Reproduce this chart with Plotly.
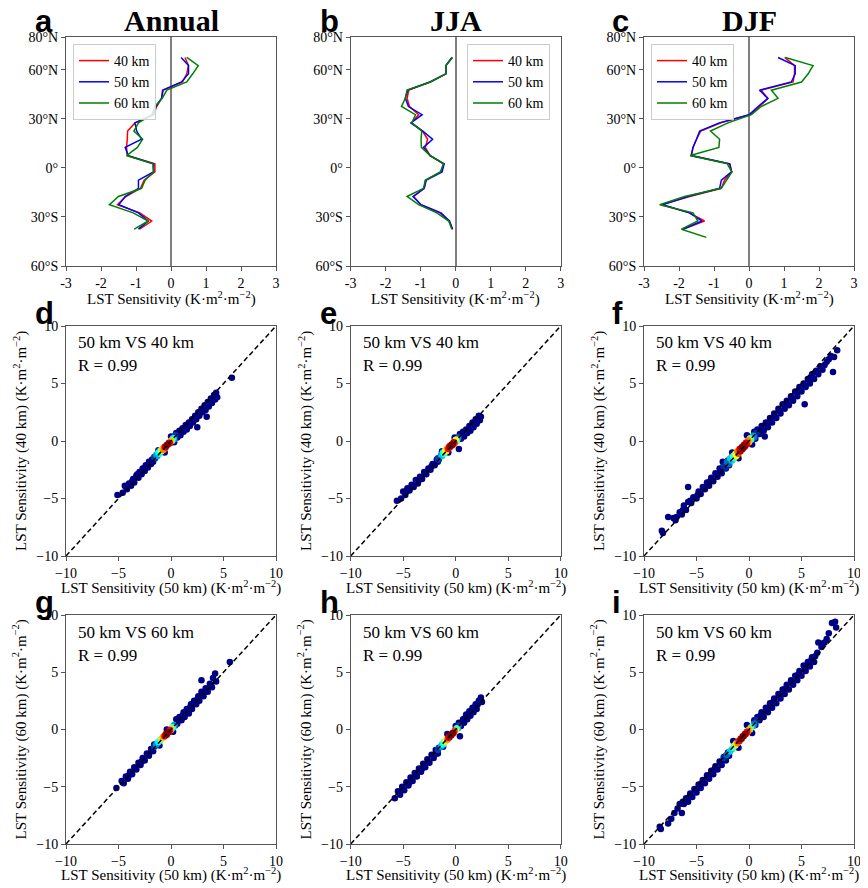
import plotly.graph_objects as go

# target picture geometry (the page body adds an 8 px margin around the figure)
PAGE_OFF = 8
W, H = 860, 880

# ---------------- data: latitude profiles (top row) ----------------
lats = [67.5, 62.5, 57.5, 52.5, 47.5, 42.5, 37.5, 32.5, 27.5, 22.5, 17.5,
        12.5, 7.5, 2.5, -2.5, -7.5, -12.5, -17.5, -22.5, -27.5, -32.5, -37.5]
lats_djf = [67.5, 62.5, 57.5, 52.5, 47.5, 42.5, 37.5, 32.5, 27.5, 22.5, 17.5,
            12.5, 7.5, 2.5, -2.5, -7.5, -12.5, -17.5, -22.5, -27.5, -32.5, -37.5, -42.5]

ann_40 = [0.40, 0.50, 0.45, 0.33, -0.22, -0.27, -0.41, -0.50, -1.03, -1.24, -1.25,
          -1.27, -1.25, -0.46, -0.46, -0.77, -0.87, -1.29, -1.53, -0.89, -0.55, -0.90]
ann_50 = [0.29, 0.50, 0.50, 0.30, -0.24, -0.27, -0.43, -0.50, -1.03, -0.98, -0.84,
          -1.31, -1.22, -0.50, -0.50, -0.93, -0.93, -1.31, -1.49, -0.93, -0.65, -0.93]
ann_60 = [0.45, 0.78, 0.62, 0.45, -0.12, -0.25, -0.46, -0.55, -0.93, -1.06, -0.81,
          -0.96, -1.27, -0.52, -0.50, -0.74, -0.84, -1.50, -1.76, -1.08, -0.65, -1.05]

jja_40 = [-0.10, -0.28, -0.28, -0.73, -1.34, -1.39, -1.32, -1.06, -1.26, -0.95, -0.80,
          -0.87, -0.73, -0.34, -0.42, -0.86, -0.90, -1.20, -1.00, -0.45, -0.18, -0.09]
jja_50 = [-0.11, -0.28, -0.28, -0.73, -1.37, -1.44, -1.35, -0.96, -1.28, -0.94, -0.66,
          -0.92, -0.73, -0.33, -0.39, -0.84, -0.90, -1.22, -0.99, -0.42, -0.18, -0.09]
jja_60 = [-0.09, -0.28, -0.28, -0.73, -1.39, -1.44, -1.55, -1.15, -1.25, -0.97, -0.99,
          -0.98, -0.73, -0.35, -0.44, -0.87, -0.92, -1.39, -1.06, -0.54, -0.20, -0.11]

djf_40 = [1.02, 1.30, 1.30, 1.26, 0.35, 0.54, 0.30, 0.02, -0.80, -1.38, -1.50,
          -1.60, -1.65, -0.55, -0.49, -0.70, -0.79, -1.70, -2.50, -1.70, -1.27, -1.89, None]
djf_50 = [0.83, 1.32, 1.32, 1.21, 0.30, 0.54, 0.26, 0.00, -0.85, -1.41, -1.50,
          -1.60, -1.65, -0.55, -0.50, -0.79, -0.84, -1.74, -2.46, -1.70, -1.34, -1.89, None]
djf_60 = [1.04, 1.83, 1.69, 1.50, 0.64, 0.83, 0.35, 0.07, -0.60, -1.10, -0.84,
          -0.86, -1.68, -0.62, -0.49, -0.65, -0.79, -1.84, -2.55, -1.60, -1.46, -1.93, -1.22]

lat_ticks = [80, 60, 30, 0, -30, -60]
lat_labels = ["80°N", "60°N", "30°N", "0°", "30°S", "60°S"]
sens_ticks = [-3, -2, -1, 0, 1, 2, 3]
sens_labels = ["-3", "-2", "-1", "0", "1", "2", "3"]
scat_ticks = [-10, -5, 0, 5, 10]
scat_labels = ["\u221210", "\u22125", "0", "5", "10"]
diag = [-10, 10]

series_names = ["40 km", "50 km", "60 km"]
series_colors = ["#ff0000", "#0000ff", "#008000"]

# ---------------- data: scatter panels (x = 50 km, y = 40/60 km) ----------------
d_cloud = [(-5.1,-4.7),(-4.6,-4.5),(-4.4,-3.9),(-4.2,-4.2),(-4.0,-3.7),(-3.8,-3.9),(-3.6,-3.3),
           (-3.5,-3.6),(-3.3,-3.0),(-3.1,-3.2),(-3.0,-2.7),(-2.8,-2.9),(-2.7,-2.4),(-2.5,-2.6),
           (-2.4,-2.1),(-2.2,-2.3),(-2.1,-1.8),(-1.9,-2.0),(-1.8,-1.6),(-1.7,-1.8),(-1.2,-0.8),
           (-0.6,-1.0),(0.0,0.4),(0.3,-0.1),(0.5,0.7),(0.6,0.3),(0.8,0.9),(0.9,0.5),(1.1,1.1),
           (1.2,0.8),(1.4,1.4),(1.5,1.0),(1.7,1.6),(1.8,1.3),(2.0,1.9),(2.1,1.6),(2.3,2.2),
           (2.4,1.9),(2.5,1.2),(2.6,2.5),(2.7,2.2),(2.9,2.8),(3.0,2.5),(3.2,3.1),(3.3,2.7),
           (3.5,3.4),(3.4,2.1),(3.6,3.0),(3.8,3.7),(3.9,3.3),(4.1,4.0),(4.2,3.6),(4.3,4.2),
           (4.4,3.8),(5.8,5.5),
           (-4.3,-4.0),(-3.7,-3.5),(-3.2,-2.9),(-2.6,-2.4),(-2.0,-1.9),(1.0,0.9),(1.6,1.4),
           (2.2,1.9),(2.8,2.5),(3.4,3.1),(4.0,3.7)]
d_core = [(-1.6,-1.4,0.2),(-1.5,-1.5,0.2),(-1.4,-1.2,0.3),(-1.3,-1.3,0.3),(-1.2,-1.0,0.4),
          (-1.1,-1.1,0.4),(-1.0,-0.8,0.5),(-0.9,-0.9,0.55),(-0.8,-0.65,0.65),(-0.7,-0.75,0.7),
          (-0.6,-0.5,0.85),(-0.5,-0.55,0.9),(-0.4,-0.35,1.0),(-0.3,-0.3,1.0),(-0.2,-0.15,0.9),
          (-0.1,-0.2,0.8),(0.0,0.05,0.65),(0.1,0.0,0.5),(0.2,0.25,0.4),(0.3,0.15,0.3),(0.4,0.5,0.2)]

e_cloud = [(-5.6,-5.2),(-5.2,-5.0),(-5.0,-4.4),(-4.8,-4.7),(-4.6,-4.1),(-4.4,-4.3),(-4.2,-3.8),
           (-4.0,-4.0),(-3.8,-3.4),(-3.6,-3.7),(-3.4,-3.1),(-3.2,-3.3),(-3.0,-2.7),(-2.8,-2.9),
           (-2.6,-2.4),(-2.4,-2.5),(-2.2,-2.0),(-2.0,-2.1),(-1.8,-1.6),(-1.7,-1.8),(-1.3,-0.9),
           (-0.7,-1.0),(-0.1,0.3),(0.3,-0.7),(0.4,0.6),(0.5,0.2),(0.7,0.8),(0.8,0.4),(1.0,1.0),
           (1.1,0.7),(1.3,1.3),(1.4,0.9),(1.6,1.6),(1.7,1.2),(1.9,1.9),(2.0,1.5),(2.2,2.2),
           (2.3,1.8),(2.4,2.1),
           (-4.7,-4.4),(-4.1,-3.9),(-3.5,-3.4),(-2.9,-2.8),(-2.3,-2.2),(0.9,0.7),(1.5,1.3),
           (2.1,1.9)]
e_core = [(-1.7,-1.5,0.2),(-1.6,-1.6,0.2),(-1.4,-1.2,0.3),(-1.3,-1.3,0.35),(-1.2,-1.0,0.4),
          (-1.1,-1.1,0.45),(-1.0,-0.8,0.55),(-0.9,-0.9,0.6),(-0.8,-0.65,0.7),(-0.7,-0.7,0.8),
          (-0.6,-0.45,0.9),(-0.5,-0.5,0.95),(-0.4,-0.3,1.0),(-0.3,-0.35,1.0),(-0.2,-0.1,0.9),
          (-0.1,-0.2,0.75),(0.0,0.1,0.6),(0.1,0.0,0.45),(0.2,0.2,0.3),(0.3,0.35,0.2)]

f_cloud = [(-8.3,-7.8),(-8.2,-8.0),(-7.7,-6.6),(-7.2,-6.7),(-6.9,-6.6),(-6.6,-6.2),(-6.4,-6.4),
           (-6.2,-5.6),(-6.0,-6.0),(-5.8,-5.3),(-5.8,-4.0),(-5.5,-5.4),(-5.3,-4.9),(-5.0,-5.0),
           (-4.8,-4.4),(-4.6,-4.6),(-4.4,-4.0),(-4.2,-4.2),(-4.0,-3.6),(-3.8,-3.9),(-3.6,-3.2),
           (-3.4,-3.5),(-3.2,-2.8),(-3.0,-3.1),(-2.8,-2.4),(-2.6,-2.8),(-2.5,-1.8),(-2.4,-2.1),
           (-2.2,-2.4),(-2.0,-1.7),(-1.9,-2.1),(-1.6,-1.0),(-1.0,-1.5),(-0.2,0.5),(0.3,-0.3),
           (0.5,0.8),(0.6,0.2),(0.8,1.0),(1.0,0.6),(1.2,1.3),(1.5,0.4),(1.4,0.9),(1.6,1.6),
           (1.8,1.2),(2.0,2.0),(2.2,1.6),(2.4,2.4),(2.6,2.0),(2.8,2.8),(3.0,2.4),(3.2,3.2),
           (3.4,2.8),(3.6,3.5),(3.8,3.1),(4.0,3.9),(4.2,3.5),(4.4,4.3),(4.6,3.9),(4.8,4.7),
           (5.0,4.3),(5.3,3.2),(5.2,5.0),(5.4,4.7),(5.6,5.4),(5.8,5.0),(6.0,5.8),(6.2,5.4),
           (6.4,6.1),(6.6,5.8),(6.8,6.5),(7.0,6.2),(7.4,6.9),(7.6,7.1),(8.0,6.0),(8.1,7.3),
           (8.4,7.9),
           (-7.0,-6.9),(-6.3,-6.0),(-5.6,-5.2),(-4.9,-4.7),(-4.3,-4.1),(-3.7,-3.5),(-3.1,-2.9),
           (-2.7,-2.6),(1.1,0.9),(1.7,1.4),(2.3,2.0),(2.9,2.6),(3.5,3.2),(4.1,3.7),(4.7,4.3),
           (5.3,4.8),(5.9,5.4),(6.5,6.0),(7.2,6.6),(7.8,7.4)]
f_core = [(-2.4,-2.2,0.15),(-2.2,-2.3,0.15),(-2.1,-1.8,0.25),(-1.9,-2.0,0.25),(-1.8,-1.5,0.35),
          (-1.6,-1.7,0.35),(-1.5,-1.3,0.45),(-1.4,-1.5,0.45),(-1.3,-1.1,0.55),(-1.2,-1.3,0.6),
          (-1.1,-0.9,0.7),(-1.0,-1.1,0.75),(-0.9,-0.7,0.85),(-0.8,-0.9,0.9),(-0.7,-0.55,1.0),
          (-0.6,-0.7,1.0),(-0.5,-0.35,0.95),(-0.4,-0.5,0.95),(-0.3,-0.15,0.85),(-0.2,-0.3,0.8),
          (-0.1,0.05,0.7),(0.0,-0.1,0.65),(0.1,0.25,0.5),(0.2,0.1,0.45),(0.4,0.45,0.3),
          (0.5,0.3,0.25),(0.7,0.7,0.15)]

g_cloud = [(-5.2,-5.1),(-4.7,-4.5),(-4.5,-4.7),(-4.3,-4.1),(-4.1,-4.3),(-3.9,-3.7),(-3.7,-3.9),
           (-3.5,-3.3),(-3.3,-3.5),(-3.1,-2.9),(-2.9,-3.1),(-2.7,-2.5),(-2.5,-2.7),(-2.3,-2.1),
           (-2.1,-2.3),(-1.9,-1.7),(-1.7,-1.9),(-1.6,-1.3),(-1.1,-1.4),(-0.4,0.0),(0.2,-0.2),
           (0.5,0.9),(0.6,0.5),(0.8,1.1),(1.0,0.8),(1.2,1.5),(1.3,1.1),(1.5,1.8),(1.7,1.4),
           (1.9,2.2),(2.0,1.8),(2.2,2.5),(2.4,2.2),(2.6,2.9),(2.7,2.5),(2.9,3.3),(2.9,4.3),
           (3.1,2.9),(3.3,3.6),(3.5,3.3),(3.7,4.0),(3.9,3.7),(4.0,4.5),(4.2,4.9),(4.3,4.2),
           (5.6,5.9),
           (-4.0,-4.0),(-3.4,-3.4),(-2.8,-2.8),(-2.2,-2.2),(1.1,1.2),(1.8,1.9),(2.5,2.6),
           (3.2,3.3),(3.8,3.9)]
g_core = [(-1.6,-1.5,0.2),(-1.5,-1.4,0.2),(-1.4,-1.3,0.3),(-1.3,-1.2,0.3),(-1.2,-1.1,0.4),
          (-1.1,-1.0,0.4),(-1.0,-0.9,0.5),(-0.9,-0.8,0.55),(-0.8,-0.75,0.65),(-0.7,-0.6,0.7),
          (-0.6,-0.6,0.85),(-0.5,-0.4,0.9),(-0.4,-0.45,1.0),(-0.3,-0.25,1.0),(-0.2,-0.25,0.9),
          (-0.1,-0.05,0.8),(0.0,-0.05,0.65),(0.1,0.2,0.5),(0.2,0.15,0.4),(0.3,0.4,0.3),(0.4,0.35,0.2)]

h_cloud = [(-5.8,-6.0),(-5.5,-5.4),(-5.3,-5.7),(-5.1,-5.0),(-4.9,-5.3),(-4.7,-4.6),(-4.5,-4.9),
           (-4.3,-4.2),(-4.1,-4.5),(-3.9,-3.8),(-3.7,-4.1),(-3.5,-3.4),(-3.3,-3.7),(-3.1,-3.0),
           (-2.9,-3.3),(-2.7,-2.6),(-2.5,-2.9),(-2.3,-2.2),(-2.1,-2.5),(-1.9,-1.8),(-1.7,-2.1),
           (-1.2,-1.5),(-0.8,-0.4),(0.0,0.3),(0.3,0.6),(0.4,-0.6),(0.5,0.3),(0.7,0.9),(0.8,0.6),
           (1.0,1.3),(1.1,0.9),(1.3,1.6),(1.4,1.2),(1.6,1.9),(1.7,1.5),(1.9,2.2),(2.0,1.8),
           (2.2,2.5),(2.4,2.8),(2.5,2.4),
           (-5.0,-5.2),(-4.4,-4.6),(-3.8,-4.0),(-3.2,-3.4),(-2.6,-2.8),(-2.0,-2.2),(0.9,1.0),
           (1.5,1.6),(2.1,2.2)]
h_core = [(-1.7,-1.8,0.2),(-1.6,-1.6,0.2),(-1.4,-1.5,0.3),(-1.3,-1.3,0.35),(-1.2,-1.3,0.4),
          (-1.1,-1.1,0.45),(-1.0,-1.1,0.55),(-0.9,-0.9,0.6),(-0.8,-0.9,0.7),(-0.7,-0.7,0.8),
          (-0.6,-0.7,0.9),(-0.5,-0.5,0.95),(-0.4,-0.5,1.0),(-0.3,-0.3,1.0),(-0.2,-0.3,0.9),
          (-0.1,-0.1,0.75),(0.0,-0.1,0.6),(0.1,0.1,0.45),(0.2,0.1,0.3),(0.3,0.35,0.2)]

i_cloud = [(-8.5,-8.5),(-8.4,-8.7),(-7.7,-8.2),(-7.4,-7.8),(-6.8,-6.9),(-6.4,-7.3),(-6.6,-6.5),
           (-6.2,-6.5),(-6.0,-6.0),(-5.8,-6.3),(-5.6,-5.6),(-5.4,-5.9),(-5.2,-5.2),(-5.0,-5.5),
           (-4.8,-4.8),(-4.6,-5.1),(-4.4,-4.4),(-4.2,-4.7),(-4.0,-4.0),(-3.8,-4.3),(-3.6,-3.6),
           (-3.4,-3.9),(-3.2,-3.2),(-3.0,-3.5),(-2.8,-2.8),(-2.6,-3.1),(-2.4,-2.4),(-2.2,-2.7),
           (-2.0,-2.0),(-1.9,-2.3),(-1.5,-1.0),(-1.0,-1.6),(-0.2,0.4),(0.3,-0.3),(0.5,0.8),
           (0.6,0.4),(0.8,1.1),(1.0,0.8),(1.2,1.5),(1.4,1.1),(1.6,1.9),(1.8,1.5),(2.0,2.3),
           (2.2,1.9),(2.4,2.7),(2.6,2.3),(2.8,3.1),(3.0,2.7),(3.2,3.5),(3.4,3.1),(3.6,3.9),
           (3.8,3.5),(4.0,4.3),(4.2,3.9),(4.4,4.7),(4.6,4.3),(4.8,5.1),(5.0,4.7),(5.2,5.6),
           (5.4,5.1),(5.6,5.9),(5.8,5.5),(6.0,6.3),(6.2,5.9),(6.5,6.7),(6.6,7.6),(6.9,7.2),
           (7.2,7.6),(7.6,8.4),(7.9,9.3),(8.2,9.4),(8.3,8.9),
           (-7.1,-7.3),(-6.3,-6.3),(-5.7,-5.9),(-5.1,-5.3),(-4.5,-4.7),(-3.9,-4.1),(-3.3,-3.5),
           (-2.7,-2.9),(1.1,1.2),(1.7,1.8),(2.3,2.4),(2.9,3.0),(3.5,3.6),(4.1,4.2),(4.7,4.8),
           (5.3,5.4),(5.9,6.0),(6.3,6.4),(7.0,7.5),(7.4,7.9)]
i_core = [(-2.4,-2.5,0.15),(-2.2,-2.3,0.15),(-2.1,-2.2,0.25),(-1.9,-2.0,0.25),(-1.8,-1.9,0.35),
          (-1.6,-1.7,0.35),(-1.5,-1.6,0.45),(-1.4,-1.4,0.45),(-1.3,-1.4,0.55),(-1.2,-1.2,0.6),
          (-1.1,-1.2,0.7),(-1.0,-1.0,0.75),(-0.9,-1.0,0.85),(-0.8,-0.8,0.9),(-0.7,-0.8,1.0),
          (-0.6,-0.6,1.0),(-0.5,-0.6,0.95),(-0.4,-0.4,0.95),(-0.3,-0.4,0.85),(-0.2,-0.2,0.8),
          (-0.1,-0.2,0.7),(0.0,0.0,0.65),(0.1,0.0,0.5),(0.2,0.2,0.45),(0.4,0.3,0.3),
          (0.5,0.5,0.25),(0.7,0.8,0.15)]

# ---------------- layout (pixel geometry in the 868x888 picture) ----------------
col_px = [(66, 276), (350.7, 560.7), (644, 854)]
row_px = [(37, 266), (326, 556), (615, 844)]

SERIF = "Liberation Serif"
SANS = "Liberation Sans"
AX_COLOR = "#555555"

def px_x(p):
    return (p - PAGE_OFF) / W

def px_y(p):
    return 1 - (p - PAGE_OFF) / H

fig = go.Figure()

axis_common = dict(showline=True, mirror=True, linecolor=AX_COLOR, linewidth=1,
                   ticks="outside", ticklen=4, tickcolor=AX_COLOR, showgrid=False,
                   automargin=False,
                   tickfont=dict(family=SERIF, size=14, color="black"))

layout_axes = {}
for k in range(9):
    r, c = divmod(k, 3)
    n = k + 1
    xa = dict(axis_common, domain=[px_x(col_px[c][0]), px_x(col_px[c][1])],
              anchor=f"y{n}")
    ya = dict(axis_common, domain=[px_y(row_px[r][1]), px_y(row_px[r][0])],
              anchor=f"x{n}")
    if r == 0:
        xa.update(range=[-3, 3], tickvals=sens_ticks, ticktext=sens_labels,
                  zeroline=True, zerolinecolor="#808080", zerolinewidth=1.5)
        ya.update(range=[-60, 80], tickvals=lat_ticks, ticktext=lat_labels, zeroline=False)
    else:
        xa.update(range=[-10, 10], tickvals=scat_ticks, ticktext=scat_labels, zeroline=False)
        ya.update(range=[-10, 10], tickvals=scat_ticks, ticktext=scat_labels, zeroline=False)
    layout_axes["xaxis" if n == 1 else f"xaxis{n}"] = xa
    layout_axes["yaxis" if n == 1 else f"yaxis{n}"] = ya

# ---------------- top row: profiles ----------------
profiles = [
    (lats, [ann_40, ann_50, ann_60], "legend"),
    (lats, [jja_40, jja_50, jja_60], "legend2"),
    (lats_djf, [djf_40, djf_50, djf_60], "legend3"),
]
for c, (lat_list, series, leg) in enumerate(profiles):
    n = c + 1
    for name, color, vals in zip(series_names, series_colors, series):
        fig.add_trace(go.Scatter(
            x=vals, y=lat_list, mode="lines", name=name,
            line=dict(color=color, width=1.5),
            xaxis=f"x{n}" if n > 1 else "x", yaxis=f"y{n}" if n > 1 else "y",
            legend=leg, showlegend=True, connectgaps=False))

# ---------------- scatter panels ----------------
scatter_panels = [
    (d_cloud, d_core), (e_cloud, e_core), (f_cloud, f_core),
    (g_cloud, g_core), (h_cloud, h_core), (i_cloud, i_core),
]
for j, (cloud, core) in enumerate(scatter_panels):
    n = j + 4
    pts = [(x, y, 0.0) for x, y in cloud] + sorted(core, key=lambda t: t[2])
    fig.add_trace(go.Scatter(
        x=[p[0] for p in pts], y=[p[1] for p in pts], mode="markers",
        marker=dict(size=6.5, color=[p[2] for p in pts], colorscale="Jet",
                    cmin=0, cmax=1, line=dict(width=0)),
        xaxis=f"x{n}", yaxis=f"y{n}", showlegend=False, hoverinfo="x+y"))
    fig.add_trace(go.Scatter(
        x=diag, y=diag, mode="lines",
        line=dict(color="black", width=1.5, dash="5px,3px"),
        xaxis=f"x{n}", yaxis=f"y{n}", showlegend=False, hoverinfo="skip"))

# ---------------- annotations ----------------
annotations = []

def add_text(text, x, y, size, family=SERIF, weight="normal", xanchor="center",
             yanchor="middle", angle=0):
    annotations.append(dict(text=text, x=px_x(x), y=px_y(y), xref="paper", yref="paper",
                            showarrow=False, xanchor=xanchor, yanchor=yanchor,
                            textangle=angle,
                            font=dict(family=family, size=size, color="black", weight=weight)))

letters = [["a", "b", "c"], ["d", "e", "f"], ["g", "h", "i"]]
letter_x = [33, 318, 610]
letter_y = [22, 314, 602]
for r in range(3):
    for c in range(3):
        add_text(letters[r][c], letter_x[c], letter_y[r], 31, family=SANS,
                 weight="bold", xanchor="left")

titles = ["Annual", "JJA", "DJF"]
for c, t in enumerate(titles):
    add_text(t, (col_px[c][0] + col_px[c][1]) / 2, 20, 30, weight="bold")

unit = "(K\u00b7m<sup>2</sup>\u00b7m<sup>\u22122</sup>)"
for c in range(3):
    cx = (col_px[c][0] + col_px[c][1]) / 2
    add_text("LST Sensitivity " + unit, cx, 298, 15)
    add_text("LST Sensitivity (50 km) " + unit, cx, 587, 15)
    add_text("LST Sensitivity (50 km) " + unit, cx, 874, 15)

ylab_x = [20, 305, 598]
comparisons = [("40 km", "50 km VS 40 km"), ("60 km", "50 km VS 60 km")]
for r in (1, 2):
    other, label = comparisons[r - 1]
    cy = (row_px[r][0] + row_px[r][1]) / 2
    for c in range(3):
        add_text(f"LST Sensitivity ({other}) " + unit, ylab_x[c], cy, 15, angle=-90)
        add_text(label, col_px[c][0] + 10, row_px[r][0] + 17, 17, xanchor="left")
        add_text("R = 0.99", col_px[c][0] + 10, row_px[r][0] + 40, 17, xanchor="left")

legend_common = dict(font=dict(family=SERIF, size=14, color="black"),
                     bgcolor="rgba(255,255,255,0.85)", bordercolor="#cccccc",
                     borderwidth=1, xanchor="left", yanchor="top", itemwidth=30,
                     tracegroupgap=0)

fig.update_layout(
    width=W, height=H, margin=dict(l=0, r=0, t=0, b=0, autoexpand=False),
    paper_bgcolor="white", plot_bgcolor="white",
    annotations=annotations,
    legend=dict(legend_common, x=px_x(73), y=px_y(44)),
    legend2=dict(legend_common, x=px_x(467), y=px_y(44)),
    legend3=dict(legend_common, x=px_x(651), y=px_y(44)),
    **layout_axes,
)

fig.write_html("out.html")
